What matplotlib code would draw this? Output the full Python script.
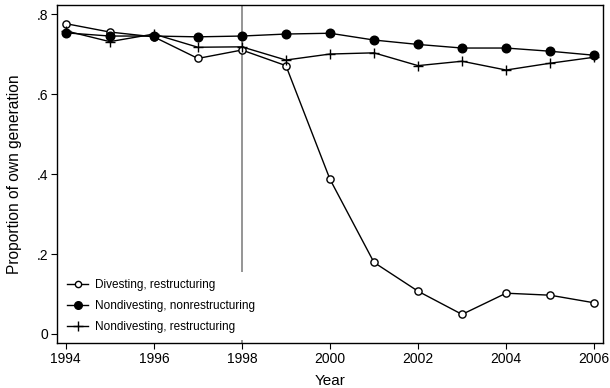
import matplotlib
matplotlib.use("Agg")
import matplotlib.pyplot as plt
from matplotlib.lines import Line2D

plt.rcParams['font.family'] = ['Liberation Sans', 'DejaVu Sans']

years = list(range(1994, 2007))
divesting_restructuring = [0.776, 0.755, 0.743, 0.689, 0.710, 0.671, 0.387,
                           0.179, 0.107, 0.049, 0.102, 0.097, 0.078]
nondivesting_nonrestructuring = [0.753, 0.745, 0.745, 0.743, 0.745, 0.750, 0.752,
                                 0.735, 0.724, 0.715, 0.715, 0.707, 0.697]
nondivesting_restructuring = [0.758, 0.731, 0.750, 0.717, 0.718, 0.685, 0.700,
                              0.703, 0.671, 0.682, 0.660, 0.677, 0.692]
series_labels = ["Divesting, restructuring",
                 "Nondivesting, nonrestructuring",
                 "Nondivesting, restructuring"]
x_ticks = [1994, 1996, 1998, 2000, 2002, 2004, 2006]
y_ticks = [0, 0.2, 0.4, 0.6, 0.8]
y_ticklabels = ["0", ".2", ".4", ".6", ".8"]
event_year = 1998

fig = plt.figure(figsize=(6.1, 3.88), dpi=100)
ax = fig.add_axes([0.0934, 0.116, 0.895, 0.871])

ax.axvline(event_year, color="#8c8c8c", lw=1.3, zorder=1)

lw = 1.0
ax.plot(years, divesting_restructuring, color="black", lw=lw, marker="o",
        ms=5.2, mfc="white", mec="black", mew=1.0, zorder=3)
ax.plot(years, nondivesting_nonrestructuring, color="black", lw=lw, marker="o",
        ms=6.2, mfc="black", mec="black", zorder=3)
ax.plot(years, nondivesting_restructuring, color="black", lw=lw, marker="+",
        ms=7, mew=1.0, zorder=3)

ax.set_xlim(1993.8, 2006.2)
ax.set_ylim(-0.0225, 0.8225)
ax.set_xticks(x_ticks)
ax.set_yticks(y_ticks)
ax.set_yticklabels(y_ticklabels)
ax.tick_params(direction="out", length=4.5, width=0.8, labelsize=10, pad=2)
for s in ax.spines.values():
    s.set_linewidth(1.0)

ax.set_xlabel("Year", fontsize=11, labelpad=5.5)
ax.set_ylabel("Proportion of own generation", fontsize=11.2, labelpad=10)

handles = [
    Line2D([], [], color="black", lw=lw, marker="o", ms=4.5, mfc="white", mec="black"),
    Line2D([], [], color="black", lw=lw, marker="o", ms=5.5, mfc="black", mec="black"),
    Line2D([], [], color="black", lw=lw, marker="+", ms=7),
]
leg = ax.legend(handles, series_labels, loc="lower left", bbox_to_anchor=(0.0, 0.0),
                frameon=True, fontsize=8.5, handlelength=1.8, handletextpad=0.6,
                labelspacing=0.75, borderpad=0.6, borderaxespad=0.25)
leg.get_frame().set_edgecolor("none")
leg.get_frame().set_facecolor("white")
leg.get_frame().set_alpha(1.0)
leg.set_zorder(5)

fig.savefig("out.png", dpi=100)
